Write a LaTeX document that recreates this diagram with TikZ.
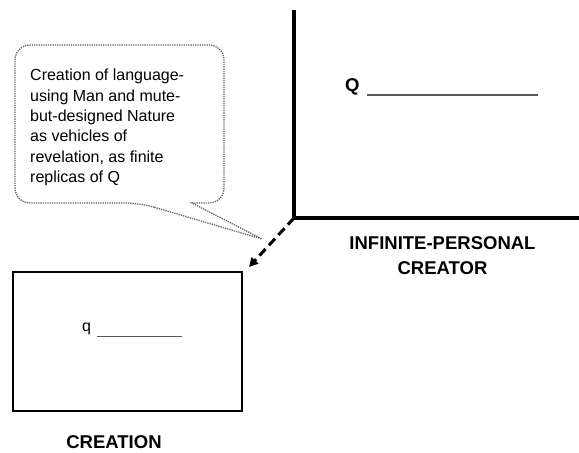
\documentclass[tikz,border=0pt]{standalone}
\usepackage{fontspec}
\setmainfont{Liberation Sans}
\usepackage{xcolor}
\usetikzlibrary{arrows.meta}

\begin{document}
\begin{tikzpicture}[x=1pt,y=1pt,
        heavy/.style={line width=4pt},
        boxline/.style={line width=2pt},
        bubble/.style={densely dotted, black!60, line width=1.3pt},
        blank/.style={gray!70!black, line width=1.3pt},
        heading/.style={font=\fontsize{18.5}{25}\selectfont\bfseries, align=center, inner sep=0}]
        \useasboundingbox (0,0) rectangle (579,453);

        \coordinate (corner) at (294,235);
        \draw[heavy] (294,443) -- (corner) -- (579,235);
        \node[anchor=base west, inner sep=0, font=\fontsize{18.5}{22}\selectfont\bfseries] (Q) at (345,361) {Q};
        \draw[blank] (367,358) -- (538,358);
        \node[heading, anchor=north] (creator) at (442.5,216.5) {INFINITE-PERSONAL\\CREATOR};

        \node[draw, boxline, minimum width=229, minimum height=139, inner sep=0] (creation) at (127.5,111.5) {};
        \node[anchor=base west, inner sep=0, font=\fontsize{16}{18}\selectfont] (q) at (82,121) {q};
        \draw[blank, line width=1pt] (97,116) -- (182,116);
        \node[heading, anchor=base] (creationlabel) at (114,5) {CREATION};

        \coordinate (tip) at (249,186);
        \draw[line width=3pt, dash pattern=on 9pt off 5pt, -{Triangle[length=9pt,width=9pt]}] (corner) -- (tip);

        \draw[bubble] (140,250) -- (262,214) -- (192,250) [rounded corners=15pt] -- (224,250) -- (224,408) -- (15,408) -- (15,250) -- cycle;
        \node[anchor=north west, inner sep=0, align=left, font=\fontsize{16}{20.4}\selectfont] (note) at (30,384)
            {Creation of language-\\using Man and mute-\\but-designed Nature\\as vehicles of\\revelation, as finite\\replicas of Q};
    \end{tikzpicture}
\end{document}
